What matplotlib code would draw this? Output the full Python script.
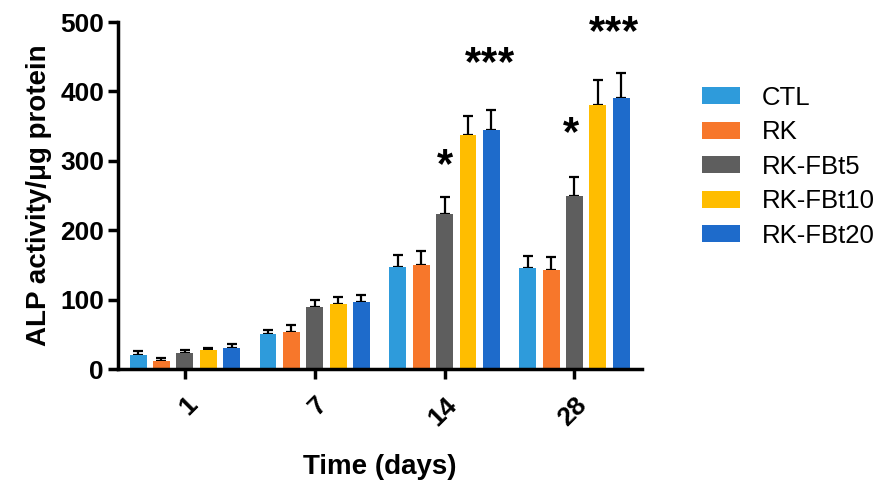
import numpy as np
import matplotlib
matplotlib.use("Agg")
import matplotlib.pyplot as plt

plt.rcParams['font.family'] = ['Liberation Sans', 'DejaVu Sans']

days = ["1", "7", "14", "28"]
groups = ["CTL", "RK", "RK-FBt5", "RK-FBt10", "RK-FBt20"]
colors = ["#2E9BDB", "#F7772B", "#5E5E5E", "#FFBD00", "#1E6BCB"]

# mean ALP activity per group at each day
ctl = [20, 51, 147, 145]
rk = [12, 53, 150, 143]
fbt5 = [23, 90, 224, 250]
fbt10 = [27, 93, 337, 380]
fbt20 = [30, 97, 345, 391]

# upper error (SD)
ctl_err = [6, 5, 17, 18]
rk_err = [4, 10, 20, 19]
fbt5_err = [4, 9, 24, 27]
fbt10_err = [3, 11, 28, 37]
fbt20_err = [6, 10, 28, 35]

means = [ctl, rk, fbt5, fbt10, fbt20]
errs = [ctl_err, rk_err, fbt5_err, fbt10_err, fbt20_err]

fig = plt.figure(figsize=(8.85, 4.84), dpi=100)
ax = fig.add_axes([0.1333, 0.2376, 0.7254 - 0.1333, 0.9545 - 0.2376])

x = np.arange(len(days))
pitch = 0.18
width = 0.13
for i, (g, m, e, c) in enumerate(zip(groups, means, errs, colors)):
    pos = x + (i - 2) * pitch
    ax.bar(pos, m, width=width, color=c, label=g, zorder=2)
    ax.errorbar(pos, m, yerr=[np.zeros(len(e)), e], fmt='none',
                ecolor='black', elinewidth=1.6, capsize=3.5, capthick=1.6, zorder=1)

# significance marks
star_kw = dict(ha='center', va='center', fontsize=30, fontweight='bold', clip_on=False)


def stars(xc, y, n):
    step = 0.125
    for k in range(n):
        ax.text(xc + (k - (n - 1) / 2) * step, y, "*", **star_kw)


stars(x[2], 292, 1)
stars(x[2] + 0.345, 440, 3)
stars(x[3] - 0.03, 339, 1)
stars(x[3] + 0.30, 484, 3)

ax.set_ylim(0, 500)
ax.set_xlim(-0.515, 3.52)
ax.set_yticks([0, 100, 200, 300, 400, 500])
ax.set_xticks(x)
ax.set_xticklabels(days, rotation=45, ha='right', rotation_mode='anchor')

for lab in ax.get_yticklabels() + ax.get_xticklabels():
    lab.set_fontsize(19)
    lab.set_fontweight('bold')

ax.spines['top'].set_visible(False)
ax.spines['right'].set_visible(False)
for s in ['left', 'bottom']:
    ax.spines[s].set_linewidth(2.5)
ax.tick_params(axis='both', width=2.5, length=7, direction='out')
ax.tick_params(axis='y', pad=3)
ax.tick_params(axis='x', pad=10)

ax.set_ylabel("ALP activity/\u03bcg protein", fontsize=20, fontweight='bold', labelpad=6)
ax.set_xlabel("Time (days)", fontsize=20, fontweight='bold', labelpad=17)

ax.legend(loc='upper left', bbox_to_anchor=(1.07, 0.883), frameon=False,
          fontsize=18.5, handlelength=1.47, handleheight=0.65, labelspacing=0.41,
          handletextpad=0.85)

fig.savefig("out.png", dpi=100, facecolor='white')
